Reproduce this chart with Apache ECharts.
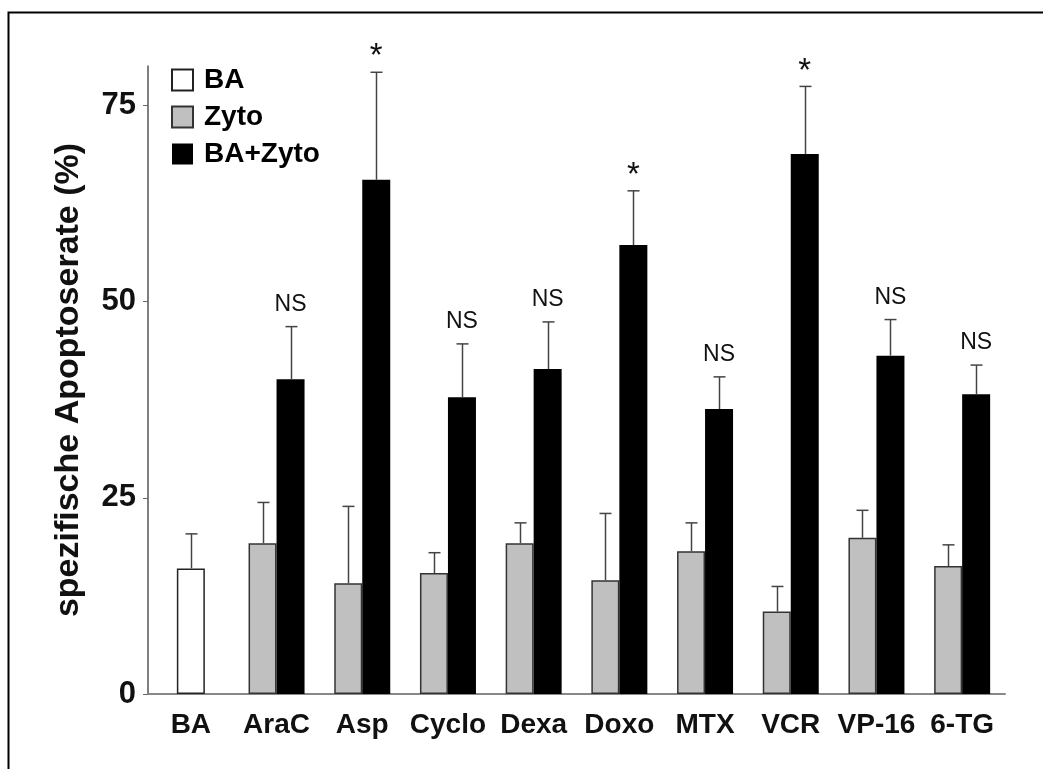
<!DOCTYPE html>
<html>
<head>
<meta charset="utf-8">
<script src="https://cdn.jsdelivr.net/npm/echarts@6/dist/echarts.min.js"></script>
<style>
  html, body { margin: 0; padding: 0; background: #fff; }
  #chart { width: 1043px; height: 769px; }
</style>
</head>
<body>
<div id="chart"></div>
<script>
// Treatment groups along the x axis
const categories = ['BA', 'AraC', 'Asp', 'Cyclo', 'Dexa', 'Doxo', 'MTX', 'VCR', 'VP-16', '6-TG'];

// BA alone (only the first group)
const baMean = [16.0, null, null, null, null, null, null, null, null, null];
const baSD   = [4.4,  null, null, null, null, null, null, null, null, null];

// Cytostatic drug alone
const zytoMean = [null, 19.2, 14.1, 15.4, 19.2, 14.5, 18.2, 10.5, 19.9, 16.3];
const zytoSD   = [null,  5.2,  9.8,  2.6,  2.6,  8.5,  3.6,  3.2,  3.5,  2.7];

// BA combined with the cytostatic drug
const comboMean = [null, 40.1, 65.5, 37.8, 41.4, 57.2, 36.3, 68.8, 43.1, 38.2];
const comboSD   = [null,  6.7, 13.7,  6.8,  6.0,  6.9,  4.1,  8.6,  4.6,  3.7];

// Significance marks above the combined bars
const significance = ['', 'NS', '*', 'NS', 'NS', '*', 'NS', '*', 'NS', 'NS'];

// Y axis ticks
const yTicks = [0, 25, 50, 75];

const FONT = "'Liberation Sans', Arial, Helvetica, sans-serif";
const BAR_W = 28;
const ERR_COLOR = '#444';

function errData(mean, sd) {
  const out = [];
  mean.forEach((m, i) => {
    if (m != null) out.push([i, m, m + sd[i]]);
  });
  return out;
}

function errRender(offset) {
  return function (params, api) {
    const i = api.value(0);
    const p0 = api.coord([i, api.value(1)]);
    const p1 = api.coord([i, api.value(2)]);
    const cx = Math.round(p0[0] + offset) + 0.5;
    const style = { stroke: ERR_COLOR, lineWidth: 1.5 };
    return {
      type: 'group',
      children: [
        { type: 'line', shape: { x1: cx, y1: p0[1], x2: cx, y2: p1[1] }, style: style },
        { type: 'line', shape: { x1: cx - 6, y1: p1[1], x2: cx + 6, y2: p1[1] }, style: style }
      ]
    };
  };
}

const markData = [];
comboMean.forEach((m, i) => {
  if (m != null && significance[i]) markData.push([i, m + comboSD[i], significance[i]]);
});

const chart = echarts.init(document.getElementById('chart'), null, { renderer: 'canvas' });

chart.setOption({
  backgroundColor: '#fff',
  animation: false,
  graphic: [{
    type: 'polyline',
    shape: { points: [[8.5, 769], [8.5, 12.5], [1043, 12.5]] },
    style: { stroke: '#000', lineWidth: 2, fill: null },
    z: 100
  }],
  legend: {
    orient: 'vertical',
    left: 166,
    top: 61,
    itemWidth: 21,
    itemHeight: 21,
    itemGap: 9,
    icon: 'rect',
    data: ['BA', 'Zyto', 'BA+Zyto'],
    textStyle: { fontSize: 28, fontWeight: 'bold', color: '#000', fontFamily: FONT, padding: [0, 0, 0, 6] }
  },
  grid: { left: 148, right: 38, top: 66, bottom: 75, containLabel: false },
  xAxis: [{
    type: 'category',
    data: categories,
    axisLine: { show: true, lineStyle: { color: '#888', width: 2 } },
    axisTick: { show: false },
    axisLabel: { fontSize: 28, fontWeight: 'bold', color: '#111', fontFamily: FONT, margin: 17, interval: 0 }
  }, {
    type: 'category',
    data: categories,
    show: false
  }],
  yAxis: {
    type: 'value',
    min: 0,
    max: 80,
    name: 'spezifische Apoptoserate (%)',
    nameLocation: 'middle',
    nameGap: 62,
    nameTextStyle: { fontSize: 34, fontWeight: 'bold', color: '#111', fontFamily: FONT },
    splitLine: { show: false },
    axisLine: { show: true, lineStyle: { color: '#555', width: 1.5 } },
    axisTick: { show: true, length: 5, lineStyle: { color: '#666' }, customValues: yTicks },
    axisLabel: { fontSize: 31, fontWeight: 'bold', color: '#111', fontFamily: FONT, margin: 12, customValues: yTicks }
  },
  series: [
    {
      name: 'BA', type: 'bar', xAxisIndex: 1, data: baMean, barWidth: BAR_W,
      itemStyle: { color: '#fff', borderColor: '#222', borderWidth: 1.5 }
    },
    {
      name: 'Zyto', type: 'bar', xAxisIndex: 0, data: zytoMean, barWidth: BAR_W, barGap: '0%',
      itemStyle: { color: '#c0c0c0', borderColor: '#333', borderWidth: 1.5 }
    },
    {
      name: 'BA+Zyto', type: 'bar', xAxisIndex: 0, data: comboMean, barWidth: BAR_W, barGap: '0%',
      itemStyle: { color: '#000', borderColor: '#000', borderWidth: 0 }
    },
    {
      name: 'errBA', type: 'custom', xAxisIndex: 1, z: 5,
      renderItem: errRender(0), data: errData(baMean, baSD)
    },
    {
      name: 'errZyto', type: 'custom', xAxisIndex: 0, z: 5,
      renderItem: errRender(-BAR_W / 2), data: errData(zytoMean, zytoSD)
    },
    {
      name: 'errCombo', type: 'custom', xAxisIndex: 0, z: 5,
      renderItem: errRender(BAR_W / 2), data: errData(comboMean, comboSD)
    },
    {
      name: 'marks', type: 'custom', xAxisIndex: 0, z: 6,
      data: markData,
      renderItem: function (params, api) {
        const i = api.value(0);
        const p = api.coord([i, api.value(1)]);
        const label = markData[params.dataIndex][2];
        const isStar = label === '*';
        return {
          type: 'text',
          x: p[0] + BAR_W / 2,
          y: p[1] - (isStar ? 15 : 22),
          style: {
            text: label,
            fontSize: isStar ? 33 : 23,
            fontFamily: FONT,
            fill: '#111',
            align: 'center',
            verticalAlign: 'middle'
          }
        };
      }
    }
  ]
});
</script>
</body>
</html>
